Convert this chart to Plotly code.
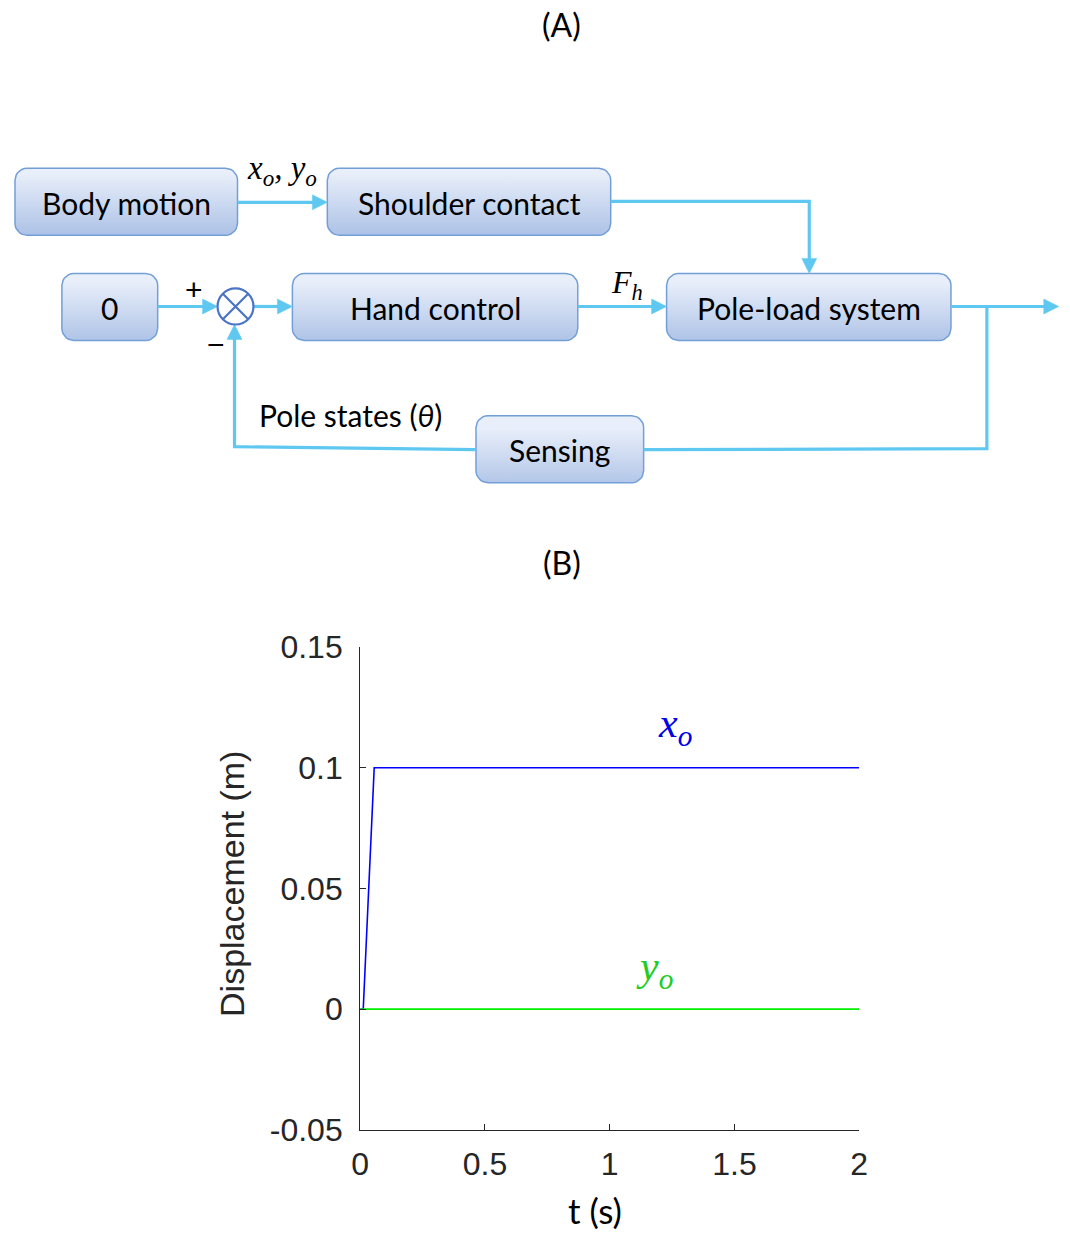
import numpy as np
import plotly.graph_objects as go

# ---------------- data ----------------
t_x = [0.0, 0.012, 0.056, 2.0]
x_o = [0.0, 0.0, 0.1, 0.1]
t_y = [0.0, 2.0]
y_o = [0.0, 0.0]
x_ticks = [0, 0.5, 1, 1.5, 2]
x_tick_labels = ["0", "0.5", "1", "1.5", "2"]
y_ticks = [-0.05, 0, 0.05, 0.1, 0.15]
y_tick_labels = ["-0.05", "0", "0.05", "0.1", "0.15"]

block_labels = ["Body motion", "Shoulder contact", "0", "Hand control",
                "Pole-load system", "Sensing"]

# ---------------- layout geometry (target pixels) ----------------
W, H = 1070, 1247
# the page is displayed slightly shrunk/offset; compensate so targets land where intended
OX, SX, OY, SY = 8.0, 0.9853, 17.0, 0.9695


def fx(px):  # target pixel x -> paper fraction
    return (px - OX) / SX / W


def fy(py):  # target pixel y -> paper fraction (bottom-up)
    return 1 - (py - OY) / SY / H


boxes = {
    "Body motion": (14, 167, 237, 234),
    "Shoulder contact": (327, 167, 611, 234),
    "0": (61, 272, 157, 339),
    "Hand control": (292, 272, 578, 339),
    "Pole-load system": (667, 272, 952, 339),
    "Sensing": (476, 414, 644, 481),
}
ARROW = "#5ec8f1"
BORDER = "#739fd8"
FONT_D = "Lato"
FONT_P = "Liberation Sans"
FONT_M = "Liberation Serif"

fig = go.Figure()

# plot traces
fig.add_trace(go.Scatter(x=t_x, y=x_o, mode="lines", line=dict(color="#0000ff", width=1.6),
                         cliponaxis=False, showlegend=False, hoverinfo="skip"))
fig.add_trace(go.Scatter(x=t_y, y=y_o, mode="lines", line=dict(color="#00ee00", width=1.6),
                         cliponaxis=False, showlegend=False, hoverinfo="skip"))


def rrect(x0, y0, x1, y1, r=12, n=8):
    xs, ys = [], []
    corners = [(x1 - r, y0 + r, -90, 0), (x1 - r, y1 - r, 0, 90),
               (x0 + r, y1 - r, 90, 180), (x0 + r, y0 + r, 180, 270)]
    for cx, cy, a0, a1 in corners:
        for a in np.linspace(np.radians(a0), np.radians(a1), n):
            xs.append(cx + r * np.cos(a))
            ys.append(cy + r * np.sin(a))
    xs.append(xs[0]); ys.append(ys[0])
    return xs, ys


for lab in block_labels:
    x0, y0, x1, y1 = boxes[lab]
    xs, ys = rrect(x0, y0, x1, y1)
    fig.add_trace(go.Scatter(
        x=xs, y=ys, xaxis="x2", yaxis="y2", mode="lines", fill="toself",
        line=dict(color=BORDER, width=1.5),
        fillgradient=dict(type="vertical", colorscale=[[0, "#a6bde4"], [1, "#e9effa"]],
                          start=y1, stop=y0),
        showlegend=False, hoverinfo="skip", cliponaxis=False))

shapes = []
annotations = []


def seg_path(pts):
    return "M " + " L ".join(f"{x},{y}" for x, y in pts)


def connector(pts, arrow=True):
    pts = list(pts)
    if arrow:
        (xa, ya), (xb, yb) = pts[-2], pts[-1]
        d = np.hypot(xb - xa, yb - ya)
        ux, uy = (xb - xa) / d, (yb - ya) / d
        L, hw = 15, 7.5
        bx, by = xb - ux * L, yb - uy * L
        pts_line = pts[:-1] + [(bx + ux * 1, by + uy * 1)]
        shapes.append(dict(type="path", xref="x2", yref="y2", path=seg_path(pts_line),
                           line=dict(color=ARROW, width=3.2)))
        tri = [(xb, yb), (bx - uy * hw, by + ux * hw), (bx + uy * hw, by - ux * hw)]
        shapes.append(dict(type="path", xref="x2", yref="y2", path=seg_path(tri) + " Z",
                           fillcolor=ARROW, line=dict(color=ARROW, width=0.5)))
    else:
        shapes.append(dict(type="path", xref="x2", yref="y2", path=seg_path(pts),
                           line=dict(color=ARROW, width=3.2)))


connector([(237, 201), (327, 201)])
connector([(611, 200), (810, 200), (810, 272)])
connector([(157, 305), (217, 305)])
connector([(253, 305), (292, 305)])
connector([(578, 305), (667, 305)])
connector([(952, 305), (1060, 305)])
connector([(988, 305), (988, 447), (644, 448)], arrow=False)
connector([(476, 448), (234, 445), (234, 323)])

# summing junction
cx, cy, r = 235, 305, 18
shapes.append(dict(type="circle", xref="x2", yref="y2", x0=cx - r, x1=cx + r, y0=cy - r, y1=cy + r,
                   fillcolor="white", line=dict(color="#4a74c8", width=2.2)))
k = r * 0.707
shapes.append(dict(type="path", xref="x2", yref="y2",
                   path=f"M {cx-k},{cy-k} L {cx+k},{cy+k} M {cx-k},{cy+k} L {cx+k},{cy-k}",
                   line=dict(color="#4a74c8", width=2.2)))


def ann(x, y, text, size, family=FONT_D, color="black", ref="x2", angle=0, yanchor="middle"):
    annotations.append(dict(x=x, y=y, xref=ref, yref=ref.replace("x", "y"), text=text,
                            showarrow=False, xanchor="center", yanchor=yanchor, textangle=angle,
                            font=dict(family=family, size=size, color=color)))


# block texts
for lab in block_labels:
    x0, y0, x1, y1 = boxes[lab]
    ann((x0 + x1) / 2, (y0 + y1) / 2 + 1, lab, 30)

ann(562, 23, "(A)", 32)
ann(562, 561, "(B)", 32)
ann(282, 169, "<i>x<sub>o</sub>, y<sub>o</sub></i>", 33, FONT_M)
ann(627, 283, "<i>F<sub>h</sub></i>", 32, FONT_M)
ann(193, 288, "+", 30, FONT_P)
ann(215, 343, "\u2212", 30, FONT_P)
ann(350, 413, "Pole states (<i>\u03b8</i>)", 30)
ann(232, 882, "Displacement (m)", 34, FONT_P, "#262626", angle=-90)
# axis title kept inside the visible area at the very bottom
annotations.append(dict(x=595, y=0, xref="x2", yref="paper", text="t (s)", showarrow=False,
                        xanchor="center", yanchor="bottom", yshift=-4,
                        font=dict(family=FONT_D, size=35, color="black")))

# curve labels on the chart axes
ann(1.26, 0.1175, "<i>x<sub>o</sub></i>", 42, FONT_M, "#0000e6", ref="x")
ann(1.18, 0.0165, "<i>y<sub>o</sub></i>", 42, FONT_M, "#22cc22", ref="x")

AX = "#262626"
fig.update_layout(
    width=W, height=H, margin=dict(l=0, r=0, t=0, b=0),
    paper_bgcolor="white", plot_bgcolor="rgba(0,0,0,0)",
    shapes=shapes, annotations=annotations, showlegend=False,
    xaxis=dict(domain=[fx(360), fx(860)], range=[0, 2], tickvals=x_ticks, ticktext=x_tick_labels,
               showline=True, linecolor=AX, linewidth=1.3, ticks="inside", ticklen=6,
               tickcolor=AX, tickwidth=1.3, showgrid=False, zeroline=False,
               tickfont=dict(family=FONT_P, size=32, color=AX), ticklabelstandoff=6,
               anchor="y", fixedrange=True),
    yaxis=dict(domain=[fy(1127), fy(645)], range=[-0.05, 0.15], tickvals=y_ticks,
               ticktext=y_tick_labels, showline=True, linecolor=AX, linewidth=1.3,
               ticks="inside", ticklen=6, tickcolor=AX, tickwidth=1.3, showgrid=False,
               zeroline=False, tickfont=dict(family=FONT_P, size=32, color=AX),
               ticklabelstandoff=10, anchor="x", fixedrange=True),
    xaxis2=dict(domain=[0, 1], range=[OX, OX + SX * W], visible=False, anchor="y2", fixedrange=True),
    yaxis2=dict(domain=[0, 1], range=[OY + SY * H, OY], visible=False, anchor="x2", fixedrange=True),
)

fig.write_html("out.html")
